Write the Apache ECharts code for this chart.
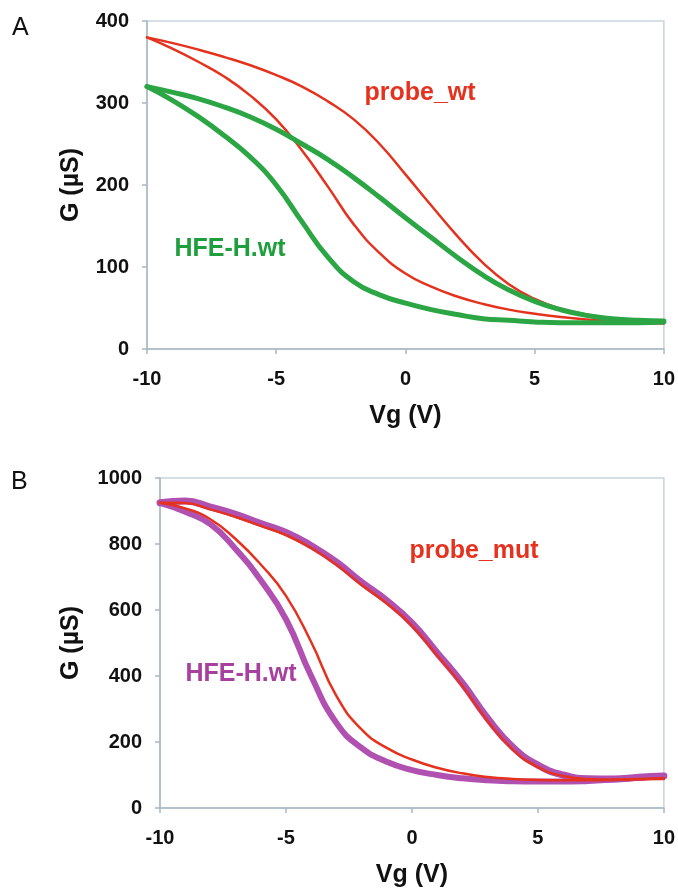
<!DOCTYPE html>
<html>
<head>
<meta charset="utf-8">
<script src="https://cdn.jsdelivr.net/npm/echarts@6/dist/echarts.min.js"></script>
<style>
html,body{margin:0;padding:0;background:#fff;}
#chart{width:678px;height:889px;}
</style>
</head>
<body>
<div id="chart"></div>
<script>
// Gate voltage grid (V)
const vg = [-10,-9,-8,-7,-6,-5,-4,-3,-2,-1,0,1,2,3,4,5,6,7,8,9,10];
const xTicks = [-10,-5,0,5,10];
const yTicksA = [0,100,200,300,400];
const yTicksB = [0,200,400,600,800,1000];

// Panel A (µS)
const probeWtOuter = [380,373,365,356,346,334,320,302,280,250,213,175,138,105,79,61,49,42,37,34,32];
const probeWtInner = [380,366,350,332,309,280,242,198,152,117,92,76,64,55,48,43,39,36,34,32,31];
const hfeWtOuterA  = [320,313,305,295,283,268,250,231,209,185,160,136,112,90,72,58,48,41,37,35,34];
const hfeWtInnerA  = [320,303,283,260,234,200,155,112,82,66,56,48,42,37,35,33,32,32,32,32,33];

// Panel B (µS)
const probeMutOuter = [925,924,905,882,855,827,788,737,676,620,552,462,370,264,177,124,97,88,86,88,90];
const probeMutInner = [925,908,875,815,738,643,503,340,238,182,147,122,105,94,88,85,84,84,85,87,88];
const hfeWtOuterB   = [925,930,912,890,862,835,795,745,684,628,560,470,378,272,185,130,100,89,88,93,97];
const hfeWtInnerB   = [925,898,860,785,690,572,400,258,182,140,115,100,90,84,81,80,80,82,86,92,97];

const RED = '#e5321e', GREEN = '#2ca645', PURPLE = '#b050b0';
const FONT = '"Liberation Sans", Arial, sans-serif';

function pairs(ys){ return vg.map((x,i)=>[x,ys[i]]); }

function xAxis(idx){
  return {
    type:'value', gridIndex:idx, min:-10, max:10, interval:5,
    name:'Vg (V)', nameLocation:'middle', nameGap:55,
    nameTextStyle:{fontFamily:FONT, fontSize:25, fontWeight:'bold', color:'#111'},
    axisLine:{show:true, onZero:false, lineStyle:{color:'#a8b8c4', width:1.5}},
    axisTick:{show:true, length:5, lineStyle:{color:'#a8b8c4', width:1.5}},
    axisLabel:{fontFamily:FONT, fontSize:20, fontWeight:'bold', color:'#111', margin:20,
      formatter:v=>xTicks.includes(v)?String(v):''},
    splitLine:{show:false}
  };
}
function yAxis(idx, max, interval, gap, ticks){
  return {
    type:'value', gridIndex:idx, min:0, max:max, interval:interval,
    name:'G (µS)', nameLocation:'middle', nameGap:gap, nameRotate:90,
    nameTextStyle:{fontFamily:FONT, fontSize:25, fontWeight:'bold', color:'#111'},
    axisLine:{show:true, onZero:false, lineStyle:{color:'#a8b8c4', width:1.5}},
    axisTick:{show:true, length:5, lineStyle:{color:'#a8b8c4', width:1.5}},
    axisLabel:{fontFamily:FONT, fontSize:20, fontWeight:'bold', color:'#111', margin:18,
      formatter:v=>ticks.includes(v)?String(v):''},
    splitLine:{show:false}
  };
}
function line(name, ys, color, width, xi, z){
  return {
    name:name, type:'line', xAxisIndex:xi, yAxisIndex:xi, data:pairs(ys),
    smooth:true, showSymbol:false, symbol:'none', z:z,
    lineStyle:{color:color, width:width, cap:'round', join:'round'},
    emphasis:{disabled:true}
  };
}

const chart = echarts.init(document.getElementById('chart'), null, {renderer:'canvas'});
chart.setOption({
  animation:false,
  backgroundColor:'#fff',
  grid:[
    {left:147, top:21, width:518, height:328, show:true, borderColor:'#c8d4dc', borderWidth:1.5, backgroundColor:'transparent'},
    {left:160, top:478, width:505, height:330, show:true, borderColor:'#c8d4dc', borderWidth:1.5, backgroundColor:'transparent'}
  ],
  xAxis:[xAxis(0), xAxis(1)],
  yAxis:[yAxis(0,400,100,63,yTicksA), yAxis(1,1000,200,76,yTicksB)],
  series:[
    line('probe_wt', probeWtOuter, RED, 2.5, 0, 2),
    line('probe_wt', probeWtInner, RED, 2.5, 0, 2),
    line('HFE-H.wt', hfeWtOuterA, GREEN, 5, 0, 3),
    line('HFE-H.wt', hfeWtInnerA, GREEN, 5, 0, 3),
    line('HFE-H.wt', hfeWtOuterB, PURPLE, 7, 1, 2),
    line('HFE-H.wt', hfeWtInnerB, PURPLE, 6, 1, 2),
    line('probe_mut', probeMutOuter, RED, 2.5, 1, 3),
    line('probe_mut', probeMutInner, RED, 2.5, 1, 3)
  ],
  graphic:[
    {type:'text', left:12, top:16, style:{text:'A', font:'500 25px '+FONT, fill:'#111'}},
    {type:'text', left:11, top:470, style:{text:'B', font:'500 25px '+FONT, fill:'#111'}},
    {type:'text', x:420, y:93, style:{text:'probe_wt', font:'bold 25px '+FONT, fill:RED, align:'center', verticalAlign:'middle'}},
    {type:'text', x:230, y:249, style:{text:'HFE-H.wt', font:'bold 25px '+FONT, fill:'#1e9e3c', align:'center', verticalAlign:'middle'}},
    {type:'text', x:474, y:551, style:{text:'probe_mut', font:'bold 25px '+FONT, fill:RED, align:'center', verticalAlign:'middle'}},
    {type:'text', x:241, y:674, style:{text:'HFE-H.wt', font:'bold 25px '+FONT, fill:'#a8409f', align:'center', verticalAlign:'middle'}}
  ]
});
</script>
</body>
</html>
